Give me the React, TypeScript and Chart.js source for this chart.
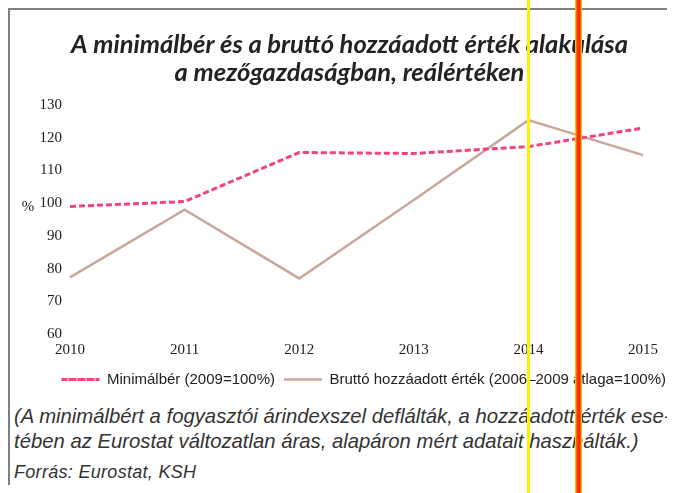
import React, { useEffect, useRef } from "react";
import { Chart, registerables } from "chart.js";

Chart.register(...registerables);

const years = ["2010", "2011", "2012", "2013", "2014", "2015"];
const minimalber = [99, 100.5, 115.5, 115.2, 117.3, 123];
const brutto = [77.3, 98, 77, 101, 125.4, 114.7];
const yTicks = [60, 70, 80, 90, 100, 110, 120, 130];

const titleLines = [
  "A minimálbér és a bruttó hozzáadott érték alakulása",
  "a mezőgazdaságban, reálértéken",
];
const seriesNames = ["Minimálbér (2009=100%)", "Bruttó hozzáadott érték (2006–2009 átlaga=100%)"];

const sans = "'Liberation Sans', Arial, sans-serif";
const serif = "'Liberation Serif', 'Times New Roman', serif";

const percentPlugin = {
  id: "percentLabel",
  afterDraw(chart: any) {
    const y = chart.scales.y;
    const ctx = chart.ctx;
    ctx.save();
    ctx.font = `15px ${serif}`;
    ctx.fillStyle = "#222";
    ctx.textAlign = "center";
    ctx.textBaseline = "middle";
    ctx.fillText("%", y.right - 42, y.getPixelForValue(100) + 4);
    ctx.restore();
  },
};

export default function App() {
  const ref = useRef<HTMLCanvasElement>(null);
  useEffect(() => {
    if (!ref.current) return;
    const chart = new Chart(ref.current, {
      type: "line",
      data: {
        labels: years,
        datasets: [
          {
            label: seriesNames[0],
            data: minimalber,
            borderColor: "#f0457c",
            backgroundColor: "#f0457c",
            borderWidth: 3,
            borderDash: [6, 3],
            pointRadius: 0,
            tension: 0,
            yAxisID: "y",
          },
          {
            label: seriesNames[1],
            data: brutto,
            borderColor: "#caa79d",
            backgroundColor: "#caa79d",
            borderWidth: 2.5,
            pointRadius: 0,
            tension: 0,
            yAxisID: "y",
          },
        ],
      },
      options: {
        animation: false,
        responsive: false,
        layout: { padding: { left: 14, right: 0, top: 0, bottom: 0 } },
        plugins: {
          title: {
            display: true,
            text: titleLines,
            color: "#222",
            font: { family: "Lato, 'Open Sans', sans-serif", size: 25.5, weight: "bold", style: "italic", lineHeight: 1.1 },
            padding: { top: 21, bottom: 18 },
          },
          legend: {
            position: "bottom",
            align: "end",
            labels: {
              boxWidth: 38,
              boxHeight: 0,
              color: "#222",
              font: { family: sans, size: 15 },
              padding: 9,
            },
          },
          tooltip: { enabled: false },
        },
        scales: {
          x: {
            type: "category",
            offset: false,
            grid: { display: false, tickLength: 7 },
            border: { display: false },
            afterFit: (s: any) => {
              s.height += 4;
            },
            ticks: { color: "#222", font: { family: serif, size: 15 }, maxRotation: 0, autoSkip: false, padding: 0 },
          },
          y: {
            min: yTicks[0],
            max: yTicks[yTicks.length - 1],
            grid: { display: false, drawTicks: false },
            border: { display: false },
            afterFit: (s: any) => {
              s.width = 46;
            },
            afterBuildTicks: (s: any) => {
              s.ticks = yTicks.map((v) => ({ value: v }));
            },
            ticks: { color: "#222", font: { family: serif, size: 15 }, padding: 8 },
          },
          y2: {
            position: "right",
            min: 0,
            max: 1,
            grid: { display: false },
            border: { display: false },
            ticks: { display: false },
            afterFit: (s: any) => {
              s.width = 32;
            },
          },
        },
      },
      plugins: [percentPlugin],
    });
    return () => chart.destroy();
  }, []);

  return (
    <div style={{ position: "relative", width: 667, borderTop: "2px solid #808080", borderLeft: "2px solid #808080", marginTop: 0 }}>
      <canvas ref={ref} width={665} height={387} style={{ display: "block" }} />
      <div
        style={{
          fontFamily: sans,
          fontStyle: "italic",
          fontSize: 20.3,
          color: "#333",
          whiteSpace: "nowrap",
          paddingLeft: 4,
          lineHeight: "25px",
          marginTop: 7,
        }}
      >
        <div>(A minimálbért a fogyasztói árindexszel deflálták, a hozzáadott érték ese-</div>
        <div>tében az Eurostat változatlan áras, alapáron mért adatait használták.)</div>
        <div style={{ fontSize: 18, letterSpacing: "0.3px", marginTop: 6 }}>Forrás: Eurostat, KSH</div>
      </div>
      <div style={{ position: "fixed", left: 527, top: 0, width: 3, height: 493, background: "#fff200" }} />
      <div style={{ position: "fixed", left: 575, top: 0, width: 7, height: 493, background: "linear-gradient(90deg,#ffe600 0%,#ff3d00 30%,#e82a00 70%,#ffe600 100%)" }} />
    </div>
  );
}
